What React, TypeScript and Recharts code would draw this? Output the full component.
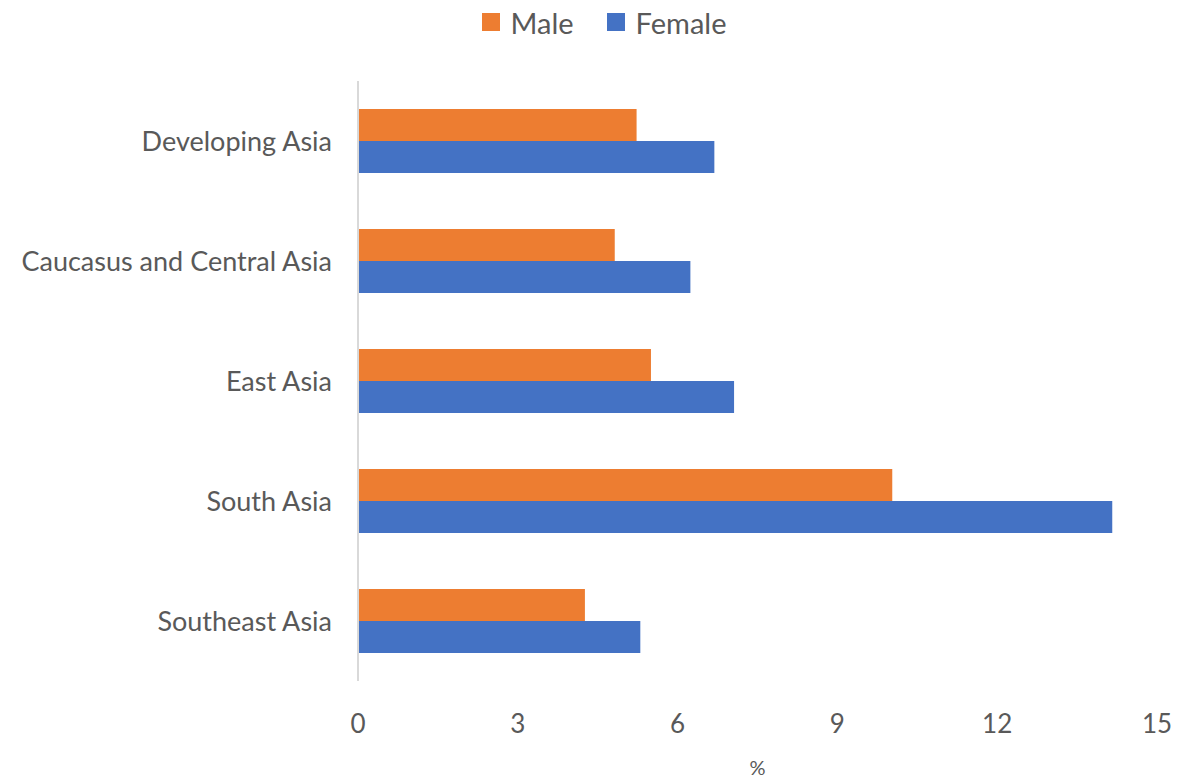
import React from 'react'
import { BarChart, Bar, XAxis, YAxis, Legend } from 'recharts'

const categories = ['Developing Asia', 'Caucasus and Central Asia', 'East Asia', 'South Asia', 'Southeast Asia']
const maleValues = [5.23, 4.82, 5.5, 10.03, 4.26]
const femaleValues = [6.69, 6.24, 7.06, 14.16, 5.3]
const xTicks = [0, 3, 6, 9, 12, 15]
const series = [
  { key: 'Male', color: '#ED7D31' },
  { key: 'Female', color: '#4472C4' },
]

const data = categories.map((name, i) => ({ name, Male: maleValues[i], Female: femaleValues[i] }))

const FONT = 'Lato, "Open Sans", sans-serif'
const TEXT = '#595959'

// fixed-height legend so the plot top stays put
const LegendBox = () => (
  <div style={{ height: 44, display: 'flex', justifyContent: 'center', alignItems: 'center', gap: 33, fontFamily: FONT, fontSize: 29, color: TEXT, paddingLeft: 14 }}>
    {series.map(s => (
      <div key={s.key} style={{ display: 'flex', alignItems: 'center' }}>
        <span style={{ display: 'inline-block', width: 18, height: 18, background: s.color, marginRight: 11 }} />
        <span>{s.key}</span>
      </div>
    ))}
  </div>
)

export default function App() {
  return (
    <div style={{ position: 'absolute', left: 0, top: 0, width: 1194, height: 783, background: '#fff', fontFamily: FONT }}>
      <BarChart
        width={1194}
        height={783}
        data={data}
        layout="vertical"
        margin={{ top: 37, right: 37, bottom: 0, left: 0 }}
        barSize={32}
        barGap={0}
      >
        <XAxis
          type="number"
          domain={[0, 15]}
          ticks={xTicks}
          axisLine={false}
          tickLine={false}
          height={102}
          tick={{ fill: TEXT, fontSize: 26, fontFamily: FONT }}
          tickMargin={28}
          label={{ value: '%', position: 'insideBottom', offset: 8, fill: TEXT, fontSize: 20, fontFamily: FONT }}
        />
        <YAxis
          type="category"
          dataKey="name"
          width={358}
          axisLine={{ stroke: '#d9d9d9', strokeWidth: 2 }}
          tickLine={false}
          tickMargin={20}
          tick={{ fill: TEXT, fontSize: 27, fontFamily: FONT }}
        />
        <Legend verticalAlign="top" align="center" content={<LegendBox />} wrapperStyle={{ top: 0, left: 0, width: 1194 }} />
        {series.map(s => (
          <Bar key={s.key} dataKey={s.key} name={s.key} fill={s.color} isAnimationActive={false} />
        ))}
      </BarChart>
    </div>
  )
}
